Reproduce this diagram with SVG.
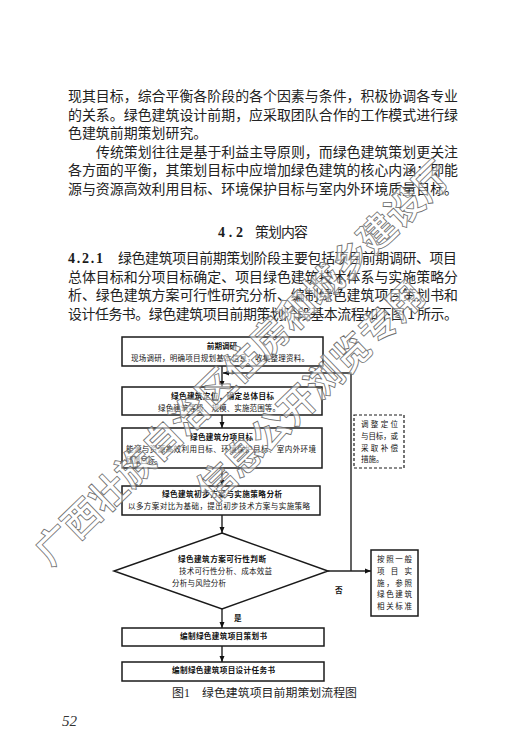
<svg xmlns="http://www.w3.org/2000/svg" width="529" height="755" viewBox="0 0 529 755">
<style>
.b{font-family:"Noto Sans CJK SC",sans-serif;font-size:13.93px;fill:#222}
.cap{font-family:"Noto Sans CJK SC",sans-serif;font-size:11.9px;fill:#222}
.lat{font-family:"Liberation Serif",serif;font-weight:bold;font-size:14px;fill:#1a1a1a}
.t{font-family:"Noto Sans CJK SC",sans-serif;font-size:7.6px;font-weight:700;fill:#111}
.c{font-family:"Noto Sans CJK SC",sans-serif;font-size:7.5px;fill:#111}
.box{fill:#fff;stroke:#1a1a1a;stroke-width:1.5}
.dash{fill:#fff;stroke:#1a1a1a;stroke-width:1.2;stroke-dasharray:3 2}
.ln{fill:none;stroke:#222;stroke-width:1.4}
.wm{font-family:"Noto Sans CJK SC",sans-serif;font-weight:700;font-size:37.4px;fill:#fff;fill-opacity:0.55;stroke:#6e6e6e;stroke-width:0.8}
</style>
<defs>
<marker id="ah" markerWidth="6" markerHeight="6" refX="6" refY="3" orient="auto" markerUnits="userSpaceOnUse">
<path d="M0,0.5 L6,3 L0,5.5 z" fill="#111"/>
</marker>
</defs>
<rect width="529" height="755" fill="#fff"/>
<g id="text-body">
<text class="b" x="68" y="101" textLength="390" lengthAdjust="spacing">现其目标，综合平衡各阶段的各个因素与条件，积极协调各专业</text>
<text class="b" x="68" y="119.5" textLength="390" lengthAdjust="spacing">的关系。绿色建筑设计前期，应采取团队合作的工作模式进行绿</text>
<text class="b" x="68" y="138">色建筑前期策划研究。</text>
<text class="b" x="96" y="156.5" textLength="362" lengthAdjust="spacing">传统策划往往是基于利益主导原则，而绿色建筑策划更关注</text>
<text class="b" x="68" y="175" textLength="390" lengthAdjust="spacing">各方面的平衡，其策划目标中应增加绿色建筑的核心内涵：即能</text>
<text class="b" x="68" y="193.5" textLength="390" lengthAdjust="spacing">源与资源高效利用目标、环境保护目标与室内外环境质量目标。</text>
<text class="lat" x="218" y="237" textLength="25" lengthAdjust="spacing">4.2</text>
<text class="b" x="255" y="237" textLength="53" lengthAdjust="spacing">策划内容</text>
<text class="lat" x="68" y="263" textLength="35" lengthAdjust="spacing">4.2.1</text>
<text class="b" x="118" y="263" textLength="339" lengthAdjust="spacing">绿色建筑项目前期策划阶段主要包括项目前期调研、项目</text>
<text class="b" x="68" y="281.5" textLength="390" lengthAdjust="spacing">总体目标和分项目标确定、项目绿色建筑技术体系与实施策略分</text>
<text class="b" x="68" y="300" textLength="390" lengthAdjust="spacing">析、绿色建筑方案可行性研究分析、编制绿色建筑项目策划书和</text>
<text class="b" x="68" y="318.5" textLength="390" lengthAdjust="spacing">设计任务书。绿色建筑项目前期策划阶段基本流程如下图 1 所示。</text>
</g>
<g id="connectors">
<line class="ln" x1="222" y1="366" x2="222" y2="387" marker-end="url(#ah)"/>
<line class="ln" x1="222" y1="415" x2="222" y2="428" marker-end="url(#ah)"/>
<line class="ln" x1="222" y1="468" x2="222" y2="486" marker-end="url(#ah)"/>
<line class="ln" x1="222" y1="515" x2="222" y2="533" marker-end="url(#ah)"/>
<line class="ln" x1="222" y1="609" x2="222" y2="628" marker-end="url(#ah)"/>
<line class="ln" x1="222" y1="646" x2="222" y2="662" marker-end="url(#ah)"/>
<line class="ln" x1="328" y1="571" x2="371" y2="571" marker-end="url(#ah)"/>
<polyline class="ln" points="351,571 351,373 223,373" marker-end="url(#ah)"/>
<text class="t" x="234" y="621">是</text>
<text class="t" x="335" y="593">否</text>
</g>
<g id="n1">
<rect class="box" x="122" y="337" width="201" height="29"/>
<text class="t" x="222" y="348.8" text-anchor="middle">前期调研</text>
<text class="c" x="131" y="360.8" textLength="178" lengthAdjust="spacing">现场调研，明确项目规划基本信息，收集整理资料。</text>
</g>
<g id="n2">
<rect class="box" x="122" y="387" width="200" height="28"/>
<text class="t" x="171" y="398.8" textLength="103" lengthAdjust="spacing">绿色建筑定位，确定总体目标</text>
<text class="c" x="158" y="410.8" textLength="122" lengthAdjust="spacing">绿色建筑等级、规模、实施范围等。</text>
</g>
<g id="n3">
<rect class="box" x="122" y="428" width="200" height="40"/>
<text class="t" x="190" y="439.5" textLength="63" lengthAdjust="spacing">绿色建筑分项目标</text>
<text class="c" x="126" y="451.5" textLength="190" lengthAdjust="spacing">能源与资源高效利用目标、环境保护目标、室内外环境</text>
<text class="c" x="126" y="463" textLength="36" lengthAdjust="spacing">质量目标。</text>
</g>
<g id="n4">
<rect class="box" x="122" y="486" width="198" height="29"/>
<text class="t" x="162" y="497" textLength="120" lengthAdjust="spacing">绿色建筑初步方案与实施策略分析</text>
<text class="c" x="128" y="509" textLength="182" lengthAdjust="spacing">以多方案对比为基础，提出初步技术方案与实施策略</text>
</g>
<g id="n5">
<polygon class="box" points="222,533 328,571 222,609 114,571"/>
<text class="t" x="178" y="562" textLength="88" lengthAdjust="spacing">绿色建筑方案可行性判断</text>
<text class="c" x="179" y="573.8" textLength="93" lengthAdjust="spacing">技术可行性分析、成本效益</text>
<text class="c" x="172" y="585.5" textLength="54" lengthAdjust="spacing">分析与风险分析</text>
</g>
<g id="n6">
<rect class="dash" x="354" y="415" width="50" height="53"/>
<text class="c" x="361" y="427" textLength="37" lengthAdjust="spacing">调整定位</text>
<text class="c" x="361" y="438.8" textLength="37" lengthAdjust="spacing">与目标，或</text>
<text class="c" x="361" y="450.5" textLength="37" lengthAdjust="spacing">采取补偿</text>
<text class="c" x="361" y="462">措施。</text>
</g>
<g id="n7">
<rect class="box" x="371" y="550" width="47" height="66" stroke-width="1.3"/>
<text class="c" x="377" y="562" textLength="35" lengthAdjust="spacing">按照一般</text>
<text class="c" x="377" y="573.8" textLength="35" lengthAdjust="spacing">项目实</text>
<text class="c" x="377" y="585.5" textLength="35" lengthAdjust="spacing">施，参照</text>
<text class="c" x="377" y="597" textLength="35" lengthAdjust="spacing">绿色建筑</text>
<text class="c" x="377" y="609" textLength="35" lengthAdjust="spacing">相关标准</text>
</g>
<g id="n8">
<rect class="box" x="122" y="628" width="202" height="18"/>
<text class="t" x="180" y="638.8" textLength="87" lengthAdjust="spacing">编制绿色建筑项目策划书</text>
</g>
<g id="n9">
<rect class="box" x="122" y="662" width="202" height="19"/>
<text class="t" x="172" y="672.8" textLength="103" lengthAdjust="spacing">编制绿色建筑项目设计任务书</text>
</g>
<g id="caption">
<text class="cap" x="172" y="697">图<tspan font-family="Liberation Serif,serif">1</tspan></text>
<text class="cap" x="202" y="697" textLength="155" lengthAdjust="spacing">绿色建筑项目前期策划流程图</text>
<text x="62" y="726" font-family="Liberation Serif,serif" font-style="italic" font-size="15" fill="#333">52</text>
</g>
<g id="watermark">
<g transform="translate(55,545) rotate(-44)">
<text class="wm" x="-18.7" y="13">广西壮族自治区住房和城乡建设厅</text>
</g>
<g transform="translate(217,483) rotate(-44)">
<text class="wm" x="-18.7" y="13">信息公开浏览专用</text>
</g>
</g>
</svg>
